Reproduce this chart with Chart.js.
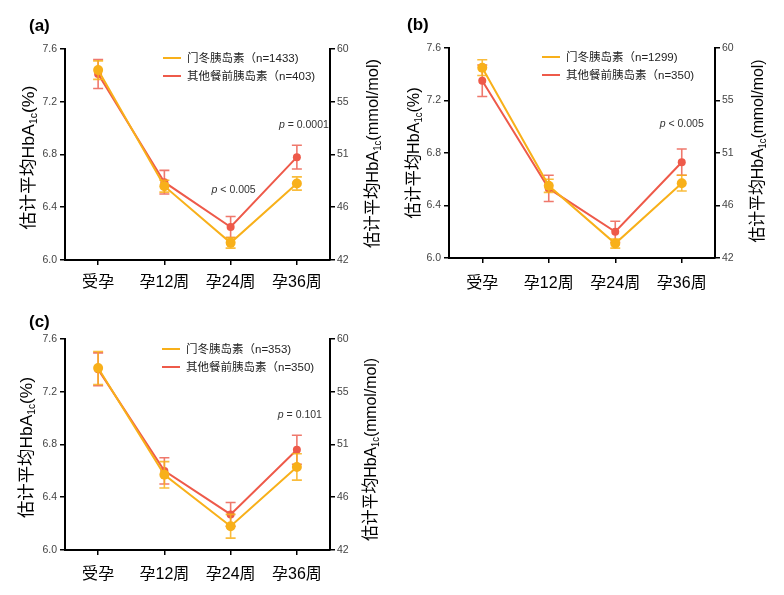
<!DOCTYPE html>
<html>
<head>
<meta charset="utf-8">
<script src="https://cdn.jsdelivr.net/npm/chart.js@4.4.0/dist/chart.umd.min.js"></script>
<style>
  html, body { margin:0; padding:0; background:#fff; }
  #wrap { position:relative; width:784px; height:595px; background:#fff; }
  canvas { position:absolute; }
</style>
</head>
<body>
<div id="wrap">
  <canvas id="ca" width="390" height="300" style="left:0;top:0;"></canvas>
  <canvas id="cb" width="394" height="300" style="left:390px;top:0;"></canvas>
  <canvas id="cc" width="390" height="295" style="left:0;top:300px;"></canvas>
</div>
<script>
// ---------- data ----------
const categories = ['受孕', '孕12周', '孕24周', '孕36周'];
const leftTicks = [6.0, 6.4, 6.8, 7.2, 7.6];
const rightTickLabels = ['42', '46', '51', '55', '60'];

// panel (a)
const aLegend = ['门冬胰岛素（n=1433)', '其他餐前胰岛素（n=403)'];
const aAspartMean = [7.44, 6.56, 6.13, 6.58];
const aAspartErr  = [0.07, 0.045, 0.04, 0.05];
const aOtherMean  = [7.41, 6.59, 6.25, 6.78];
const aOtherErr   = [0.11, 0.09, 0.08, 0.09];
const aPValues = ['= 0.0001', '< 0.005'];

// panel (b)
const bLegend = ['门冬胰岛素（n=1299)', '其他餐前胰岛素（n=350)'];
const bAspartMean = [7.45, 6.55, 6.11, 6.57];
const bAspartErr  = [0.06, 0.05, 0.035, 0.06];
const bOtherMean  = [7.35, 6.53, 6.20, 6.73];
const bOtherErr   = [0.12, 0.10, 0.08, 0.10];
const bPValues = ['< 0.005'];

// panel (c)
const cLegend = ['门冬胰岛素（n=353)', '其他餐前胰岛素（n=350)'];
const cAspartMean = [7.38, 6.57, 6.18, 6.63];
const cAspartErr  = [0.125, 0.10, 0.09, 0.10];
const cOtherMean  = [7.37, 6.60, 6.27, 6.76];
const cOtherErr   = [0.125, 0.10, 0.09, 0.11];
const cPValues = ['= 0.101'];

// ---------- style ----------
const FAM = '"Liberation Sans", Arial, "Noto Sans CJK SC", sans-serif';
const ORANGE = '#F8B01A';
const RED = '#EE5A4A';
const ORANGE_EB = 'rgba(248,176,26,0.85)';
const RED_EB = 'rgba(236,96,82,0.85)';

const errorBarPlugin = {
  id: 'errbars',
  beforeDatasetDraw(chart, args) {
    const ds = chart.data.datasets[args.index];
    if (!ds.errors) return;
    const ys = chart.scales.y, ctx = chart.ctx;
    ctx.save();
    ctx.strokeStyle = ds.errorColor;
    ctx.lineWidth = 1.6;
    args.meta.data.forEach((pt, i) => {
      const v = ds.data[i], e = ds.errors[i];
      const x = pt.x;
      const yt = ys.getPixelForValue(v + e), yb = ys.getPixelForValue(v - e);
      ctx.beginPath();
      ctx.moveTo(x, yt); ctx.lineTo(x, yb);
      ctx.moveTo(x - 5, yt); ctx.lineTo(x + 5, yt);
      ctx.moveTo(x - 5, yb); ctx.lineTo(x + 5, yb);
      ctx.stroke();
    });
    ctx.restore();
  }
};

function drawVertTitle(ctx, cx, cy, pre, sub, post, size, subSize, target) {
  ctx.save();
  ctx.translate(cx, cy);
  ctx.rotate(-Math.PI / 2);
  const f1 = size + 'px ' + FAM, f2 = subSize + 'px ' + FAM;
  ctx.font = f1;
  const w1 = ctx.measureText(pre).width, w3 = ctx.measureText(post).width;
  ctx.font = f2;
  const w2 = ctx.measureText(sub).width;
  const total = w1 + w2 + w3;
  const s = target ? target / total : 1;
  ctx.scale(s, 1);
  let x = -total / 2;
  const base = size * 0.36;
  ctx.fillStyle = '#000';
  ctx.textBaseline = 'alphabetic';
  ctx.textAlign = 'left';
  ctx.font = f1; ctx.fillText(pre, x, base); x += w1;
  ctx.font = f2; ctx.fillText(sub, x, base + subSize * 0.3); x += w2;
  ctx.font = f1; ctx.fillText(post, x, base);
  ctx.restore();
}

const decorPlugin = {
  id: 'decor',
  afterDraw(chart) {
    const o = chart.options.plugins.decor;
    const ctx = chart.ctx, ca = chart.chartArea;
    const xs = chart.scales.x, ys = chart.scales.y;
    const cy = (ca.top + ca.bottom) / 2;
    // axis titles
    drawVertTitle(ctx, o.leftTitleX, cy + o.leftTitleDy, '估计平均HbA', '1c', '(%)', 17, 10, o.leftLen);
    drawVertTitle(ctx, o.rightTitleX, cy + o.rightTitleDy, '估计平均HbA', '1c', '(mmol/mol)', 17, 10, o.rightLen);
    // panel label
    ctx.save();
    ctx.font = 'bold 17px ' + FAM;
    ctx.fillStyle = '#000';
    ctx.textBaseline = 'middle';
    ctx.textAlign = 'left';
    ctx.fillText(o.panel, o.panelX, o.panelY);
    ctx.restore();
    // legend
    ctx.save();
    chart.data.datasets.forEach((ds, i) => {
      const lx = ca.left + o.legX, ly = ca.top + o.legY + i * o.legGap;
      ctx.strokeStyle = ds.borderColor;
      ctx.lineWidth = 2;
      ctx.beginPath(); ctx.moveTo(lx, ly); ctx.lineTo(lx + 18, ly); ctx.stroke();
      ctx.font = '11.5px ' + FAM;
      ctx.fillStyle = '#222';
      ctx.textBaseline = 'middle';
      ctx.textAlign = 'left';
      ctx.fillText(ds.label, lx + 24, ly + 1);
    });
    ctx.restore();
    // p-values
    ctx.save();
    ctx.fillStyle = '#333';
    ctx.textBaseline = 'middle';
    o.pvals.forEach(p => {
      const x = xs.getPixelForValue(p.idx) + p.dx;
      const y = ys.getPixelForValue(p.v);
      ctx.font = 'italic 10.5px ' + FAM;
      const wp = ctx.measureText('p').width;
      ctx.font = '10.5px ' + FAM;
      const wr = ctx.measureText(' ' + p.text).width;
      const x0 = x - (wp + wr) / 2;
      ctx.font = 'italic 10.5px ' + FAM;
      ctx.textAlign = 'left';
      ctx.fillText('p', x0, y);
      ctx.font = '10.5px ' + FAM;
      ctx.fillText(' ' + p.text, x0 + wp, y);
    });
    ctx.restore();
  }
};

function makeChart(id, legend, aMean, aErr, oMean, oErr, L) {
  const axisGrid = { drawOnChartArea: false, tickLength: 5, color: '#000', lineWidth: 1.5 };
  const axisBorder = { color: '#000', width: 2 };
  return new Chart(document.getElementById(id), {
    type: 'line',
    data: {
      labels: categories,
      datasets: [
        { label: legend[0], data: aMean, errors: aErr, errorColor: ORANGE_EB,
          borderColor: ORANGE, backgroundColor: ORANGE, pointBackgroundColor: ORANGE, pointBorderColor: ORANGE,
          borderWidth: 2, pointRadius: 5, pointBorderWidth: 0, tension: 0, clip: false },
        { label: legend[1], data: oMean, errors: oErr, errorColor: RED_EB,
          borderColor: RED, backgroundColor: RED, pointBackgroundColor: RED, pointBorderColor: RED,
          borderWidth: 2, pointRadius: 4, pointBorderWidth: 0, tension: 0, clip: false }
      ]
    },
    options: {
      responsive: false,
      animation: false,
      events: [],
      layout: { padding: { top: L.top, left: 0, right: 0, bottom: 0 } },
      plugins: {
        legend: { display: false },
        tooltip: { enabled: false },
        decor: L.decor
      },
      scales: {
        x: {
          type: 'category', offset: true,
          grid: { drawOnChartArea: false, tickLength: 5, color: '#000', lineWidth: 1.5 },
          border: axisBorder,
          ticks: { color: '#000', font: { size: 16, family: FAM }, padding: L.xpad, maxRotation: 0, autoSkip: false },
          afterFit: s => { s.height = L.xh; }
        },
        y: {
          position: 'left', min: 6.0, max: 7.6,
          afterBuildTicks: s => { s.ticks = leftTicks.map(v => ({ value: v })); },
          grid: axisGrid, border: axisBorder,
          ticks: { color: '#444', font: { size: 10.5, family: FAM }, padding: 3, callback: v => Number(v).toFixed(1) },
          afterFit: s => { s.width = L.lw; }
        },
        y2: {
          position: 'right', min: 6.0, max: 7.6,
          afterBuildTicks: s => { s.ticks = leftTicks.map(v => ({ value: v })); },
          grid: axisGrid, border: axisBorder,
          ticks: { color: '#444', font: { size: 10.5, family: FAM }, padding: 2, callback: (v, i) => rightTickLabels[i] },
          afterFit: s => { s.width = L.rw; }
        }
      }
    },
    plugins: [errorBarPlugin, decorPlugin]
  });
}

makeChart('ca', aLegend, aAspartMean, aAspartErr, aOtherMean, aOtherErr, {
  top: 49, xh: 40, lw: 65, rw: 60, xpad: 8,
  decor: { panel: '(a)', panelX: 29, panelY: 26,
    leftTitleX: 28, leftTitleDy: 3, leftLen: 144,
    rightTitleX: 372, rightTitleDy: -1, rightLen: 189,
    legX: 98, legY: 9, legGap: 18,
    pvals: [ { idx: 3, v: 7.02, dx: 7, text: aPValues[0] }, { idx: 2, v: 6.53, dx: 3, text: aPValues[1] } ] }
});

makeChart('cb', bLegend, bAspartMean, bAspartErr, bOtherMean, bOtherErr, {
  top: 48, xh: 42, lw: 59, rw: 69, xpad: 11,
  decor: { panel: '(b)', panelX: 17, panelY: 25,
    leftTitleX: 23, leftTitleDy: 0, leftLen: 131,
    rightTitleX: 367, rightTitleDy: -2, rightLen: 183,
    legX: 93, legY: 9, legGap: 18,
    pvals: [ { idx: 3, v: 7.02, dx: 0, text: bPValues[0] } ] }
});

makeChart('cc', cLegend, cAspartMean, cAspartErr, cOtherMean, cOtherErr, {
  top: 39, xh: 45, lw: 65, rw: 60, xpad: 10,
  decor: { panel: '(c)', panelX: 29, panelY: 22,
    leftTitleX: 26, leftTitleDy: 3, leftLen: 141,
    rightTitleX: 370, rightTitleDy: 5, rightLen: 183,
    legX: 97, legY: 10, legGap: 18,
    pvals: [ { idx: 3, v: 7.02, dx: 3, text: cPValues[0] } ] }
});
</script>
</body>
</html>
